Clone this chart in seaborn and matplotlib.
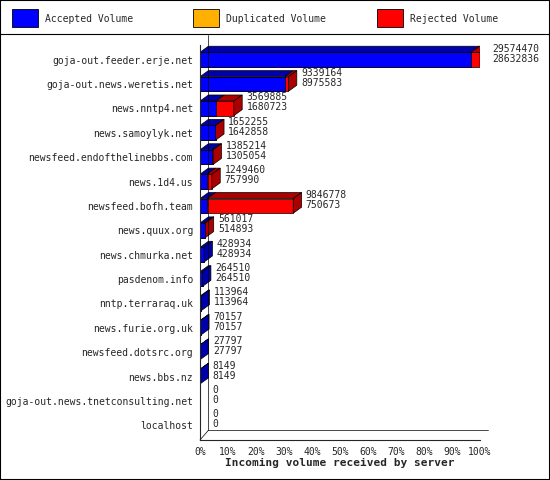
import matplotlib
matplotlib.use("Agg")
import matplotlib.pyplot as plt
from matplotlib.patches import Polygon, Rectangle
import seaborn as sns
import pandas as pd
import numpy as np

servers = ["goja-out.feeder.erje.net", "goja-out.news.weretis.net", "news.nntp4.net",
           "news.samoylyk.net", "newsfeed.endofthelinebbs.com", "news.1d4.us",
           "newsfeed.bofh.team", "news.quux.org", "news.chmurka.net", "pasdenom.info",
           "nntp.terraraq.uk", "news.furie.org.uk", "newsfeed.dotsrc.org", "news.bbs.nz",
           "goja-out.news.tnetconsulting.net", "localhost"]
total = [29574470, 9339164, 3569885, 1652255, 1385214, 1249460, 9846778, 561017,
         428934, 264510, 113964, 70157, 27797, 8149, 0, 0]
accepted = [28632836, 8975583, 1680723, 1642858, 1305054, 757990, 750673, 514893,
            428934, 264510, 113964, 70157, 27797, 8149, 0, 0]
ticks = [f"{i}%" for i in range(0, 101, 10)]

mx = max(total)
df = pd.DataFrame({"server": servers,
                   "tot": [t / mx * 100 for t in total],
                   "acc": [a / mx * 100 for a in accepted]})

sns.set_style("white")
plt.rcParams["font.family"] = ["DejaVu Sans Mono"]
plt.rcParams["font.size"] = 7

fig = plt.figure(figsize=(5.5, 4.8), dpi=100)
ax = fig.add_axes([200 / 550, 1 - 440 / 480, 280 / 550, 395 / 480])
W = 0.6
sns.barplot(data=df, y="server", x="tot", color="#ff0000", orient="h", ax=ax,
            width=W, edgecolor="black", linewidth=0.5, saturation=1)
sns.barplot(data=df, y="server", x="acc", color="#0000ff", orient="h", ax=ax,
            width=W, edgecolor="black", linewidth=0.5, saturation=1)

dx, dy = 3.0, 0.25
for i, (t, a) in enumerate(zip(df.tot, df.acc)):
    y0 = i - W / 2
    for (x0, x1, c) in [(0, a, "#0000aa"), (a, t, "#aa0000")]:
        if x1 > x0:
            ax.add_patch(Polygon([(x0, y0), (x0 + dx, y0 - dy), (x1 + dx, y0 - dy), (x1, y0)],
                                 closed=True, fc=c, ec="black", lw=0.5))
    side = "#aa0000" if t > a else "#0000aa"
    if t > 0:
        ax.add_patch(Polygon([(t, y0), (t + dx, y0 - dy), (t + dx, y0 + W - dy), (t, y0 + W)],
                             closed=True, fc=side, ec="black", lw=0.5))
    ax.text(t + dx + 1.5, i - 0.25, f"{total[i]}\n{accepted[i]}", fontsize=7,
            va="center", ha="left", linespacing=1.0)

ax.set_xlim(0, 100)
ax.set_ylim(15.6, -0.6)
ax.set_xticks(range(0, 101, 10))
ax.set_xticklabels(ticks)
ax.set_ylabel("")
ax.set_xlabel("Incoming volume received by server", fontweight="bold", fontsize=8, labelpad=1)
ax.tick_params(axis="both", length=3, pad=2, direction="out")
for s in ["top", "right"]:
    ax.spines[s].set_visible(False)
ax.plot([0, dx], [15.6, 15.6 - 0.4], color="black", lw=0.5, clip_on=False)
ax.plot([dx, dx], [15.2, -0.6 - 0.4], color="black", lw=0.5, clip_on=False)
ax.plot([dx, 100 + dx], [15.2, 15.2], color="black", lw=0.5, clip_on=False)

for x, fc, lab in [(12, "#0000ff", "Accepted Volume"), (193, "#ffb000", "Duplicated Volume"),
                   (377, "#ff0000", "Rejected Volume")]:
    fig.patches.append(Rectangle((x / 550, 1 - 27 / 480), 26 / 550, 18 / 480,
                                 transform=fig.transFigure, fc=fc, ec="black", lw=0.6))
    fig.text((x + 33) / 550, 1 - 19 / 480, lab, va="center", fontsize=7)
fig.lines.append(plt.Line2D([0, 1], [1 - 34 / 480] * 2, transform=fig.transFigure,
                            color="black", lw=0.8))
fig.patches.append(Rectangle((0, 0), 1, 1, transform=fig.transFigure, fill=False,
                             ec="black", lw=1.5))
fig.savefig("out.png", dpi=100)
